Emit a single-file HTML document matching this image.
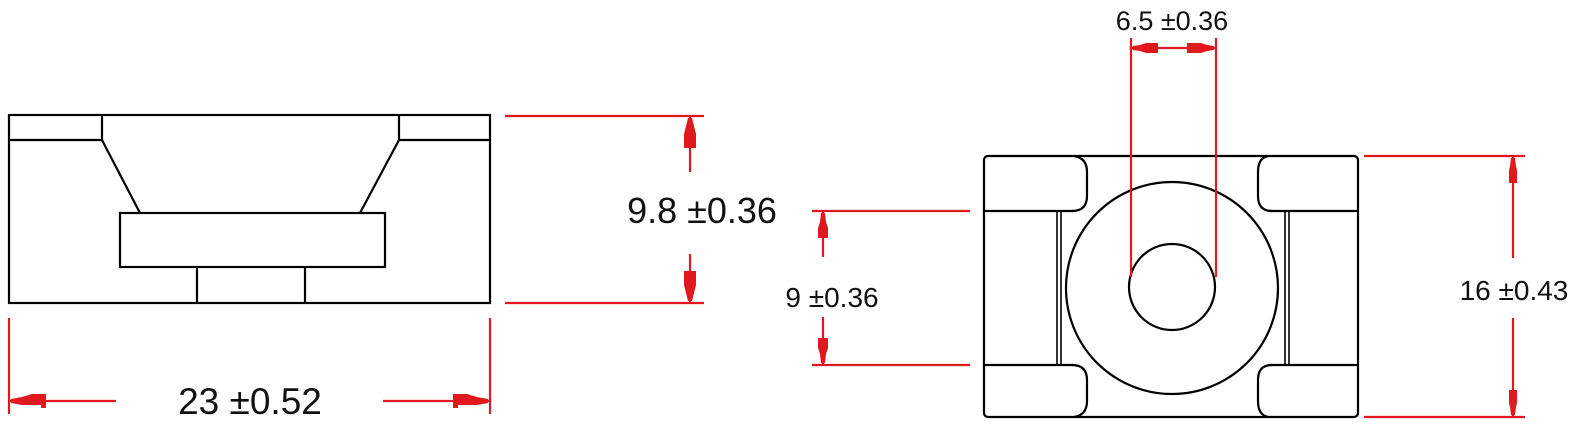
<!DOCTYPE html>
<html><head><meta charset="utf-8"><style>
html,body{margin:0;padding:0;background:#fff;}
svg{display:block}
text{font-family:"Liberation Sans",sans-serif;fill:#111;}
</style></head><body>
<svg width="1580" height="430" viewBox="0 0 1580 430" xmlns="http://www.w3.org/2000/svg">
<g fill="none" stroke="#000" stroke-width="2.2">
  <rect x="9" y="115" width="481" height="188"/>
  <line x1="9" y1="140" x2="102" y2="140"/>
  <line x1="102" y1="115" x2="102" y2="140"/>
  <line x1="399" y1="140" x2="490" y2="140"/>
  <line x1="399" y1="115" x2="399" y2="140"/>
  <line x1="102" y1="140" x2="140" y2="213"/>
  <line x1="399" y1="140" x2="360" y2="213"/>
  <rect x="120" y="213" width="265" height="54"/>
  <line x1="197" y1="267" x2="197" y2="303"/>
  <line x1="305" y1="267" x2="305" y2="303"/>
  <rect x="984" y="156" width="374" height="261" rx="4"/>
  <line x1="984" y1="211" x2="1074" y2="211"/>
  <line x1="984" y1="365" x2="1074" y2="365"/>
  <line x1="1270" y1="211" x2="1358" y2="211"/>
  <line x1="1270" y1="365" x2="1358" y2="365"/>
  <path d="M1074 156 Q1087 158 1087 172 L1087 196 Q1087 211 1072 211"/>
  <path d="M1074 417 Q1087 415 1087 401 L1087 380 Q1087 365 1072 365"/>
  <path d="M1268 156 Q1258 158 1258 172 L1258 196 Q1258 211 1272 211"/>
  <path d="M1268 417 Q1258 415 1258 401 L1258 380 Q1258 365 1272 365"/>
  <line x1="1057" y1="211" x2="1057" y2="365" stroke-width="1.6"/>
  <line x1="1061" y1="211" x2="1061" y2="365" stroke-width="1.6"/>
  <line x1="1285" y1="211" x2="1285" y2="365" stroke-width="1.6"/>
  <line x1="1289" y1="211" x2="1289" y2="365" stroke-width="1.6"/>
  <circle cx="1172" cy="288" r="106"/>
  <circle cx="1172" cy="287" r="43"/>
</g>
<g stroke="#e0191f" stroke-width="2.2" fill="none">
  <line x1="9" y1="318" x2="9" y2="414"/>
  <line x1="490" y1="318" x2="490" y2="414"/>
  <line x1="9" y1="401" x2="116" y2="401"/>
  <line x1="383" y1="401" x2="490" y2="401"/>
  <line x1="505" y1="116" x2="704" y2="116"/>
  <line x1="505" y1="303" x2="704" y2="303"/>
  <line x1="690" y1="116" x2="690" y2="172"/>
  <line x1="690" y1="254" x2="690" y2="303"/>
  <line x1="812" y1="211" x2="970" y2="211"/>
  <line x1="812" y1="365" x2="970" y2="365"/>
  <line x1="823" y1="211" x2="823" y2="257"/>
  <line x1="823" y1="317" x2="823" y2="365"/>
  <line x1="1131" y1="38" x2="1131" y2="277"/>
  <line x1="1216" y1="38" x2="1216" y2="277"/>
  <line x1="1131" y1="48" x2="1216" y2="48"/>
  <line x1="1364" y1="156" x2="1525" y2="156"/>
  <line x1="1364" y1="417" x2="1525" y2="417"/>
  <line x1="1513" y1="156" x2="1513" y2="258"/>
  <line x1="1513" y1="318" x2="1513" y2="417"/>
</g>
<g fill="#e0191f">
  <polygon points="11,399 22,397 32,394 46,394 46,408 41,408 41,405 22,405 11,403"/>
  <polygon points="488,399 477,397 467,394 453,394 453,408 458,408 458,405 477,405 488,403"/>
  <polygon points="688,118 686,126 684,134 684,148 696,148 696,134 694,126 692,118"/>
  <polygon points="688,301 686,293 684,285 684,271 696,271 696,285 694,293 692,301"/>
  <polygon points="821,213 820,222 818,228 818,238 828,238 828,228 826,222 825,213"/>
  <polygon points="821,363 820,354 818,348 818,338 828,338 828,348 826,354 825,363"/>
  <polygon points="1133,46 1140,45 1146,43 1158,43 1158,53 1146,53 1140,51 1133,50"/>
  <polygon points="1214,46 1207,45 1201,43 1187,43 1187,53 1201,53 1207,51 1214,50"/>
  <polygon points="1511,158 1510,166 1509,170 1509,183 1517,183 1517,170 1516,166 1515,158"/>
  <polygon points="1511,415 1510,407 1509,403 1509,390 1517,390 1517,403 1516,407 1515,415"/>
</g>
<text x="250" y="414" font-size="37" text-anchor="middle">23 ±0.52</text>
<text x="702" y="223" font-size="36" text-anchor="middle">9.8 ±0.36</text>
<text x="832" y="307" font-size="28" text-anchor="middle">9 ±0.36</text>
<text x="1172" y="30" font-size="27" text-anchor="middle">6.5 ±0.36</text>
<text x="1514" y="300" font-size="28" text-anchor="middle">16 ±0.43</text>
</svg>
</body></html>
